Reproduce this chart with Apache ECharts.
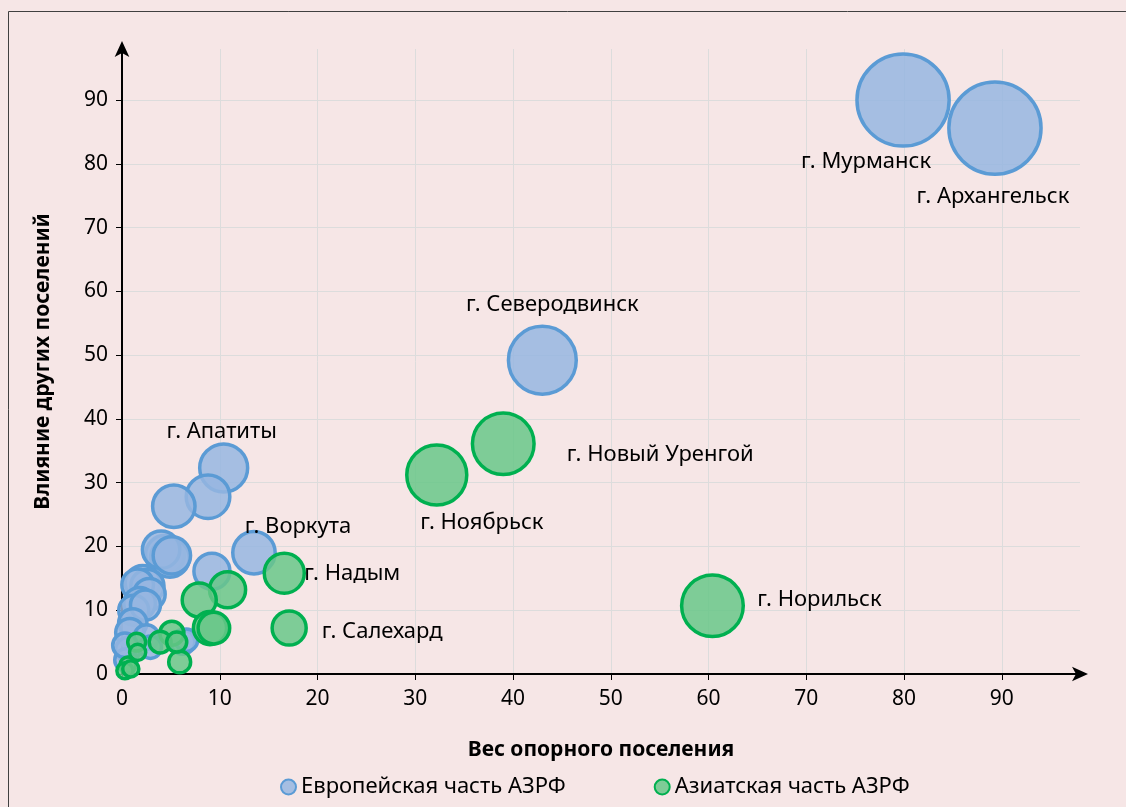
<!DOCTYPE html>
<html>
<head>
<meta charset="utf-8">
<script src="https://cdn.jsdelivr.net/npm/echarts@6/dist/echarts.min.js"></script>
<style>
  html, body { margin: 0; padding: 0; background: #f6e6e6; }
  #main { width: 1126px; height: 807px; }
</style>
</head>
<body>
<div id="main"></div>
<script>
// Европейская часть: вес, влияние, размер пузырька
var euroX = [79.9, 89.3, 43.0, 10.4, 8.8, 5.3, 13.5, 9.2, 4.4, 4.9, 4.0, 5.1, 2.1, 2.6, 1.6, 2.8, 1.8, 1.2, 2.4, 1.1, 0.8, 2.5, 2.9, 6.2, 6.6, 0.6, 0.4, 0.3];
var euroY = [90, 85.6, 49.2, 32.3, 27.8, 26.3, 19.0, 16.1, 18.7, 18.2, 19.5, 18.6, 14.3, 13.8, 14.0, 12.5, 11.1, 10.0, 10.8, 8.0, 6.5, 5.8, 4.2, 5.0, 5.3, 3.8, 2.2, 4.5];
var euroS = [85, 85, 46, 23, 19, 18, 18, 13, 15, 15, 14, 14, 12, 11, 10, 10, 10, 9, 9, 8, 8, 6, 5, 6, 5, 6, 5, 6];
var euroNames = ['г. Мурманск', 'г. Архангельск', 'г. Северодвинск', 'г. Апатиты', '', '', 'г. Воркута'];

// Азиатская часть
var asiaX = [60.4, 39.0, 32.2, 16.6, 17.1, 10.8, 7.9, 9.0, 9.4, 5.1, 3.9, 5.9, 1.5, 1.6, 5.6, 0.6, 0.3, 0.9];
var asiaY = [10.7, 36.1, 31.2, 15.8, 7.2, 13.2, 11.6, 7.2, 7.2, 6.4, 5.0, 1.9, 5.0, 3.4, 5.0, 1.4, 0.5, 0.8];
var asiaS = [38, 38, 36, 16, 11.6, 13, 11.6, 11, 10, 5.8, 4.8, 4.8, 3.2, 2.6, 4, 2.6, 2.6, 2.6];
var asiaNames = ['г. Норильск', 'г. Новый Уренгой', 'г. Ноябрьск', 'г. Надым', 'г. Салехард'];

var tickValues = [0, 10, 20, 30, 40, 50, 60, 70, 80, 90];

// где рисовать подписи относительно центра пузырька
var labelOffset = {
  'г. Мурманск': [-37, 62],
  'г. Архангельск': [-2, 69],
  'г. Северодвинск': [10, -55],
  'г. Апатиты': [-2, -36],
  'г. Воркута': [44, -26],
  'г. Норильск': [107, -6],
  'г. Новый Уренгой': [157, 11],
  'г. Ноябрьск': [45, 48],
  'г. Надым': [68, 0],
  'г. Салехард': [93, 4]
};

var font = 'Noto Sans';

function buildData(xs, ys, ss, names) {
  var list = [];
  for (var i = 0; i < xs.length; i++) {
    var item = { value: [xs[i], ys[i], ss[i]] };
    var name = names[i];
    if (name) {
      item.name = name;
      item.label = {
        show: true,
        position: 'inside',
        offset: labelOffset[name],
        formatter: name,
        color: '#000',
        textBorderWidth: 0,
        fontSize: 22,
        fontFamily: font
      };
    }
    list.push(item);
  }
  return list;
}

var chart = echarts.init(document.getElementById('main'));

var option = {
  backgroundColor: '#f6e6e6',
  animation: false,
  textStyle: { fontFamily: font },
  graphic: [{
    type: 'rect',
    shape: { x: 8.5, y: 11.5, width: 1130, height: 810 },
    style: { fill: 'none', stroke: '#404040', lineWidth: 1 },
    silent: true
  }],
  grid: { left: 122, right: 46, top: 49, bottom: 133, containLabel: false },
  legend: {
    bottom: 4,
    left: 275,
    itemGap: 88,
    itemWidth: 15,
    itemHeight: 15,
    icon: 'circle',
    textStyle: { fontSize: 22, color: '#000', fontFamily: font },
    data: ['Европейская часть АЗРФ', 'Азиатская часть АЗРФ']
  },
  xAxis: {
    type: 'value',
    min: 0,
    max: 98,
    interval: 10,
    name: 'Вес опорного поселения',
    nameLocation: 'middle',
    nameGap: 66,
    nameTextStyle: { fontSize: 21, fontWeight: 'bold', color: '#000', fontFamily: font },
    axisLine: { show: true, lineStyle: { color: '#000', width: 2 }, symbol: ['none', 'arrow'], symbolSize: [11, 16], symbolOffset: [0, 8] },
    axisTick: { show: true, length: 6, lineStyle: { color: '#000' } },
    axisLabel: {
      fontSize: 21, color: '#000', margin: 15, showMaxLabel: false,
      formatter: function(v) { return tickValues.indexOf(v) >= 0 ? v : ''; }
    },
    splitLine: { show: true, showMaxLine: false, lineStyle: { color: '#dcdcdc', width: 1 } }
  },
  yAxis: {
    type: 'value',
    min: 0,
    max: 98,
    interval: 10,
    name: 'Влияние других поселений',
    nameLocation: 'middle',
    nameGap: 68,
    nameTextStyle: { fontSize: 21, fontWeight: 'bold', color: '#000', fontFamily: font },
    axisLine: { show: true, lineStyle: { color: '#000', width: 2 }, symbol: ['none', 'arrow'], symbolSize: [11, 16], symbolOffset: [0, 8] },
    axisTick: { show: true, length: 6, lineStyle: { color: '#000' } },
    axisLabel: {
      fontSize: 21, color: '#000', margin: 14, showMaxLabel: false,
      formatter: function(v) { return tickValues.indexOf(v) >= 0 ? v : ''; }
    },
    splitLine: { show: true, showMaxLine: false, lineStyle: { color: '#dcdcdc', width: 1 } }
  },
  series: [{
    name: 'Европейская часть АЗРФ',
    type: 'scatter',
    symbolSize: function(v) { return 10 * Math.sqrt(v[2]); },
    itemStyle: { color: 'rgba(150,182,225,0.85)', borderColor: '#5b9bd5', borderWidth: 3.5, opacity: 1 },
    data: buildData(euroX, euroY, euroS, euroNames)
  }, {
    name: 'Азиатская часть АЗРФ',
    type: 'scatter',
    symbolSize: function(v) { return 10 * Math.sqrt(v[2]); },
    itemStyle: { color: 'rgba(105,199,136,0.85)', borderColor: '#00b050', borderWidth: 3.5, opacity: 1 },
    data: buildData(asiaX, asiaY, asiaS, asiaNames)
  }]
};

chart.setOption(option);
</script>
</body>
</html>
